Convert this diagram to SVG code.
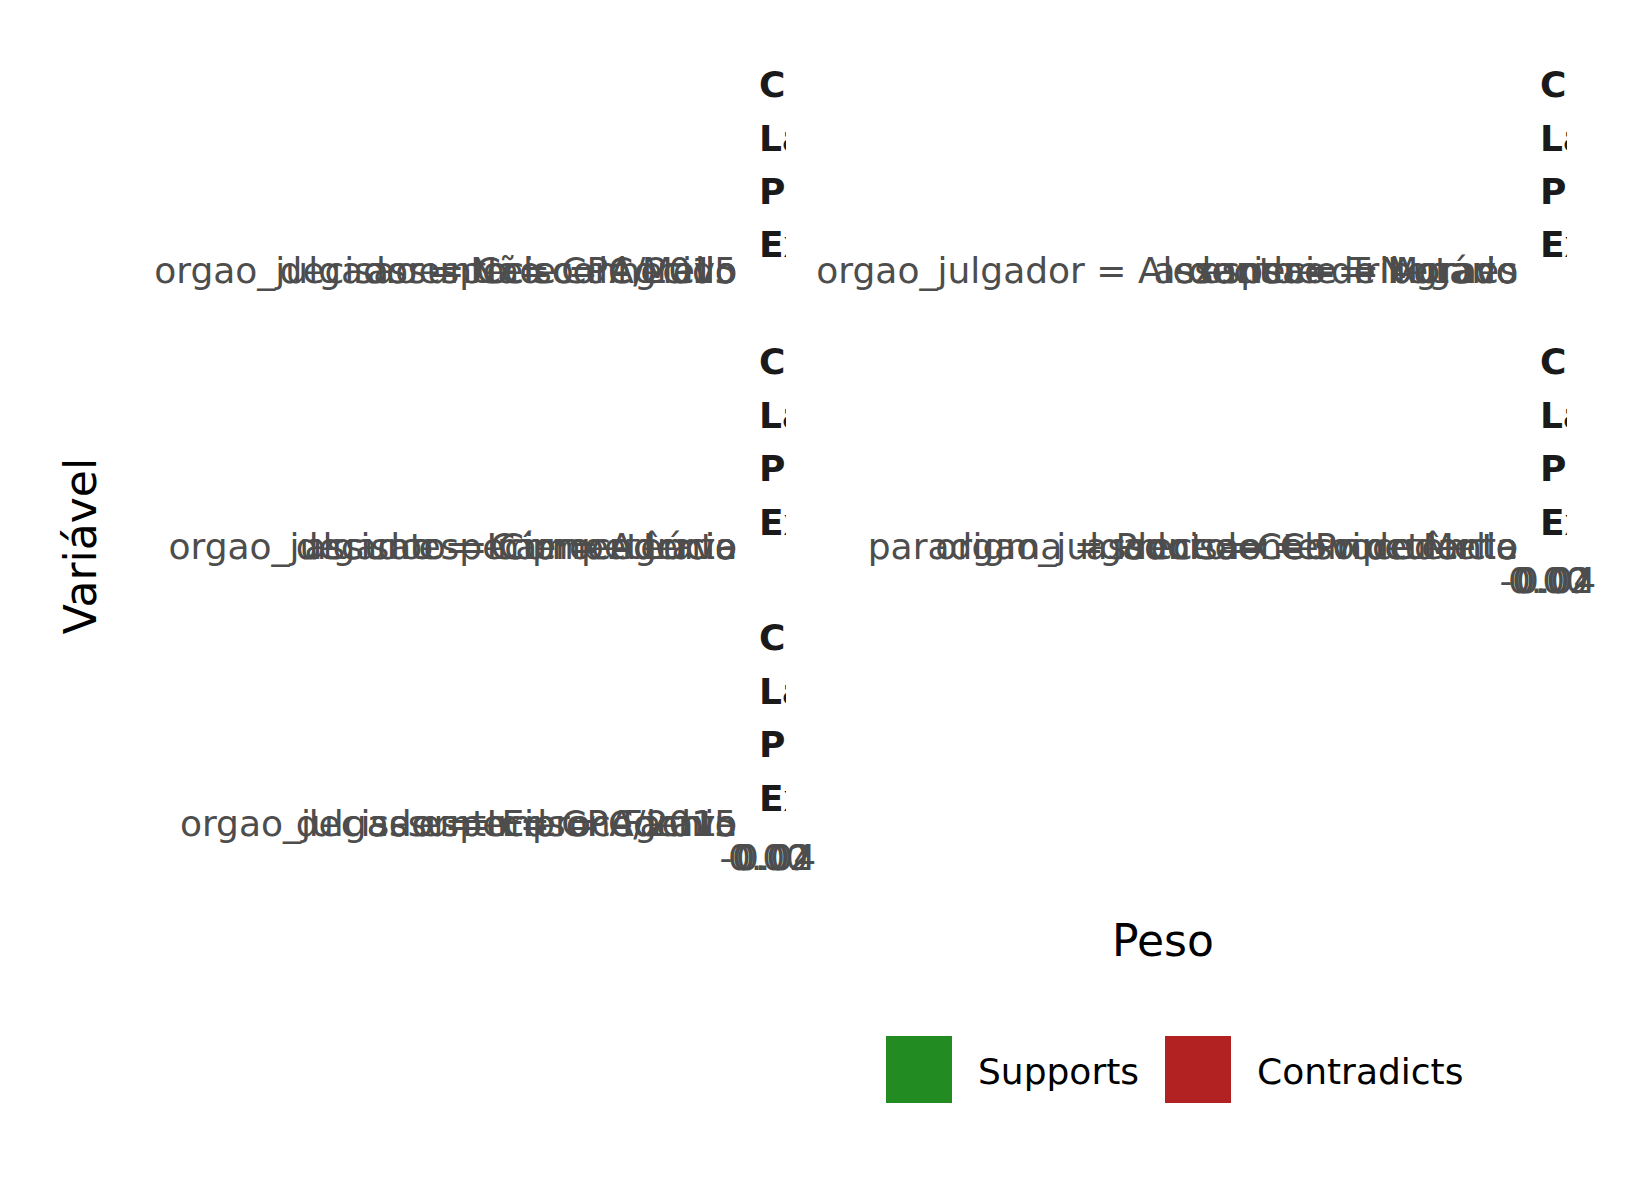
<svg xmlns="http://www.w3.org/2000/svg" width="1628" height="1184" viewBox="0 0 1628 1184">
<style>
text{font-family:"DejaVu Sans","Liberation Sans",sans-serif}
.ax{font-size:36px;fill:#4D4D4D;text-anchor:end}
.tk{font-size:36px;fill:#4D4D4D;text-anchor:middle}
.st{font-size:36px;font-weight:bold;fill:#1A1A1A}
.ti{font-size:44px;fill:#000}
.lg{font-size:36px;fill:#000}
</style>
<defs>
<clipPath id="cl"><rect x="757" y="40" width="29" height="800"/></clipPath>
<clipPath id="cr"><rect x="1538" y="40" width="29" height="560"/></clipPath>
</defs>
<rect width="1628" height="1184" fill="#fff"/>
<g id="panel-1">
<g clip-path="url(#cl)" class="st">
<text x="759" y="97">Case: 1</text><text x="759" y="151">Label: Provido</text><text x="759" y="204">Probability: 0.62</text><text x="759" y="257">Explanation Fit: 0.18</text>
</g>
<text class="ax" x="737" y="283">orgao_julgador = Celso de Mello</text>
<text class="ax" x="737" y="283">decisao = Não conhecido</text>
<text class="ax" x="737" y="283">assunto = CPC/2015</text>
<text class="ax" x="737" y="283">especie = Agravo</text>
</g>
<g id="panel-2">
<g clip-path="url(#cr)" class="st">
<text x="1540" y="97">Case: 2</text><text x="1540" y="151">Label: Provido</text><text x="1540" y="204">Probability: 0.58</text><text x="1540" y="257">Explanation Fit: 0.21</text>
</g>
<text class="ax" x="1518" y="283">orgao_julgador = Alexandre de Moraes</text>
<text class="ax" x="1518" y="283">decisao = Negado</text>
<text class="ax" x="1518" y="283">assunto = Tributário</text>
<text class="ax" x="1518" y="283">especie = Agravo</text>
</g>
<g id="panel-3">
<g clip-path="url(#cl)" class="st">
<text x="759" y="374">Case: 3</text><text x="759" y="428">Label: Provido</text><text x="759" y="481">Probability: 0.55</text><text x="759" y="535">Explanation Fit: 0.15</text>
</g>
<text class="ax" x="737" y="559">orgao_julgador = Cármen Lúcia</text>
<text class="ax" x="737" y="559">decisao = Improcedente</text>
<text class="ax" x="737" y="559">assunto = Competência</text>
<text class="ax" x="737" y="559">especie = Agravo</text>
</g>
<g id="panel-4">
<g clip-path="url(#cr)" class="st">
<text x="1540" y="374">Case: 4</text><text x="1540" y="428">Label: Provido</text><text x="1540" y="481">Probability: 0.60</text><text x="1540" y="535">Explanation Fit: 0.19</text>
</g>
<text class="ax" x="1518" y="559">paradigma = Precedente vinculante</text>
<text class="ax" x="1518" y="559">orgao_julgador = Celso de Mello</text>
<text class="ax" x="1518" y="559">decisao = Procedente</text>
<text class="ax" x="1518" y="559">assunto = Competência</text>
<g class="tk"><text x="1546" y="593">-0.02</text><text x="1548" y="593">0.00</text><text x="1552" y="593">0.02</text><text x="1556" y="593">0.04</text></g>
</g>
<g id="panel-5">
<g clip-path="url(#cl)" class="st">
<text x="759" y="650">Case: 5</text><text x="759" y="704">Label: Provido</text><text x="759" y="757">Probability: 0.57</text><text x="759" y="811">Explanation Fit: 0.17</text>
</g>
<text class="ax" x="737" y="836">orgao_julgador = Edson Fachin</text>
<text class="ax" x="737" y="836">decisao = Improcedente</text>
<text class="ax" x="737" y="836">assunto = CPC/2015</text>
<text class="ax" x="737" y="836">especie = Agravo</text>
<g class="tk"><text x="766" y="870">-0.02</text><text x="768" y="870">0.00</text><text x="772" y="870">0.02</text><text x="776" y="870">0.04</text></g>
</g>
<g id="connectors"></g>
<text class="ti" x="1163" y="956" text-anchor="middle">Peso</text>
<text class="ti" transform="translate(96,546) rotate(-90)" text-anchor="middle">Variável</text>
<g id="legend">
<rect x="886" y="1036" width="66" height="67" fill="#228B22"/>
<text class="lg" x="978" y="1084">Supports</text>
<rect x="1165" y="1036" width="66" height="67" fill="#B22222"/>
<text class="lg" x="1257" y="1084">Contradicts</text>
</g>
</svg>
